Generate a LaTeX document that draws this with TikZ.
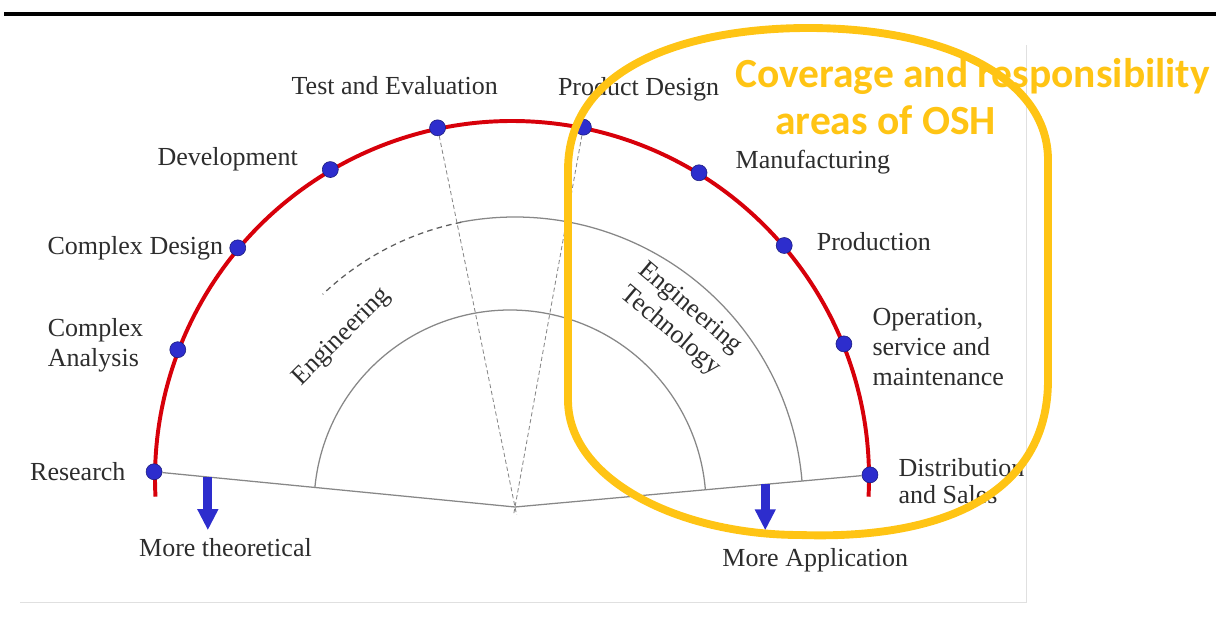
\documentclass[tikz,border=0pt]{standalone}
\usepackage{fontspec}
\setmainfont{Liberation Serif}
\newfontfamily\oshfont{Carlito}
\usetikzlibrary{positioning, calc, arrows.meta}

\begin{document}
\begin{tikzpicture}[x=0.025cm, y=0.025cm,
		dot/.style={circle, fill=dotblue, draw=dotblue!60!black, line width=0.4pt, minimum size=0.4cm, inner sep=0pt},
		lbl/.style={text=textgray, font=\fontsize{18.5}{21.5}\selectfont, inner sep=0pt},
		osh/.style={text=oshyellow, font=\oshfont\bfseries\fontsize{29.5}{33}\selectfont, inner sep=0pt},
		arcgray/.style={draw=linegray, line width=0.9pt},
		guide/.style={draw=linegray, line width=0.6pt, dash pattern=on 3pt off 2pt},
		bluearrow/.style={draw=dotblue, line width=6.4pt, -{Triangle[width=14pt, length=15pt]}}]
		
		% Colors
		\definecolor{dotblue}{RGB}{45,45,205}
		\definecolor{arcred}{RGB}{215,0,10}
		\definecolor{oshyellow}{RGB}{255,196,20}
		\definecolor{textgray}{RGB}{45,45,45}
		\definecolor{linegray}{RGB}{135,135,135}
		\definecolor{framegray}{RGB}{224,224,224}
		
		\useasboundingbox (0,0) rectangle (1216,620);
		
		% Frame
		\fill[black] (4,604) rectangle (1216,608);
		\draw[framegray, line width=0.7pt] (20,18) -- (1026,18) -- (1026,575);
		
		% Centres
		\coordinate (O) at (512,142);
		\coordinate (mid) at (515,115);
		\coordinate (inn) at (510,114);
		\coordinate (vtx) at (515,113);
		
		% Outer arc
		\draw[arcred, line width=2.8pt] ($(O)+(-3:357)$) arc[start angle=-3, end angle=183, radius=357];
		
		% Stages
		\node (res) [dot] at ($(O)+(179:358)$) {};
		\node (cana) [dot] at ($(O)+(159:358)$) {};
		\node (cdes) [dot] at ($(O)+(140:358)$) {};
		\node (dev) [dot] at ($(O)+(120.5:358)$) {};
		\node (test) [dot] at ($(O)+(102:358)$) {};
		\node (prod) [dot] at ($(O)+(78.5:358)$) {};
		\node (manu) [dot] at ($(O)+(58.5:358)$) {};
		\node (prodn) [dot] at ($(O)+(40.5:358)$) {};
		\node (oper) [dot] at ($(O)+(22:358)$) {};
		\node (dist) [dot] at ($(O)+(0.5:358)$) {};
		
		% Base and guides
		\draw[arcgray] (res) -- (vtx) -- (dist);
		\draw[guide, shorten >=-0.2cm] (test) -- (vtx);
		\draw[guide, shorten >=-0.2cm] (prod) -- (vtx);
		
		% Inner arcs
		\begin{scope}
			\clip (0,620) -- (0,148) -- (res.center) -- (vtx) -- (dist.center) -- (1216,145) -- (1216,620) -- cycle;
			\draw[arcgray] ($(mid)+(-10:288)$) arc[start angle=-10, end angle=101, radius=288];
			\draw[arcgray] ($(inn)+(-10:196)$) arc[start angle=-10, end angle=190, radius=196];
		\end{scope}
		\draw[draw=linegray!70!black, line width=0.9pt, dash pattern=on 4pt off 3pt] ($(mid)+(101:282 and 288)$) arc[start angle=101, end angle=133, x radius=282, y radius=288];
		
		% Labels
		\node (reslbl) [lbl, left=0.5cm of res] {Research};
		\node (canalbl) [lbl, align=left, left=0.65cm of cana, yshift=0.12cm] {Complex\\Analysis};
		\node (cdeslbl) [lbl, left=0.15cm of cdes] {Complex Design};
		\node (devlbl) [lbl, left=0.6cm of dev, yshift=0.25cm] {Development};
		\node (testlbl) [lbl, above=0.62cm of test, xshift=-1.07cm] {Test and Evaluation};
		\node (prodlbl) [lbl, above=0.45cm of prod, xshift=1.38cm] {Product Design};
		\node (manulbl) [lbl, right=0.7cm of manu, yshift=0.27cm] {Manufacturing};
		\node (prodnlbl) [lbl, right=0.6cm of prodn, yshift=0.09cm] {Production};
		\node (operlbl) [lbl, align=left, right=0.5cm of oper, yshift=-0.08cm] {Operation,\\service and\\maintenance};
		\node (distlbl) [lbl, align=left, right=0.5cm of dist, yshift=-0.15cm] {Distribution\\[-2pt]and Sales};
		
		\node (eng) [lbl, rotate=45] at (342,283) {Engineering};
		\node (engtech) [lbl, rotate=-40, align=center] at (680,300) {Engineering\\Technology};
		
		% Arrows
		\coordinate (tharr) at ($(res)!0.149!(vtx)$);
		\coordinate (aparr) at ($(vtx)!0.705!(dist)$);
		\node (theo) [lbl, below=1.53cm of tharr, xshift=0.44cm] {More theoretical};
		\node (appl) [lbl, below=1.6cm of aparr, xshift=1.25cm] {More Application};
		\draw[bluearrow, shorten >=0.2cm] (tharr) -- (tharr |- theo.north);
		\draw[bluearrow, shorten >=0.45cm] (aparr) -- (aparr |- appl.north);
		
		% OSH area
		\draw[oshyellow, line width=5.6pt] (568,300) -- (568,450) .. controls (568,560) and (700,592) .. (808,592) .. controls (950,592) and (1048,540) .. (1048,460) -- (1048,240) .. controls (1048,130) and (950,80) .. (800,85) .. controls (680,85) and (568,140) .. (568,220) -- cycle;
		\node (osh1) [osh, anchor=base west] at (735,532) {Coverage and responsibility};
		\node (osh2) [osh, anchor=base west] at (775,485) {areas of OSH};
		
	\end{tikzpicture}
\end{document}
